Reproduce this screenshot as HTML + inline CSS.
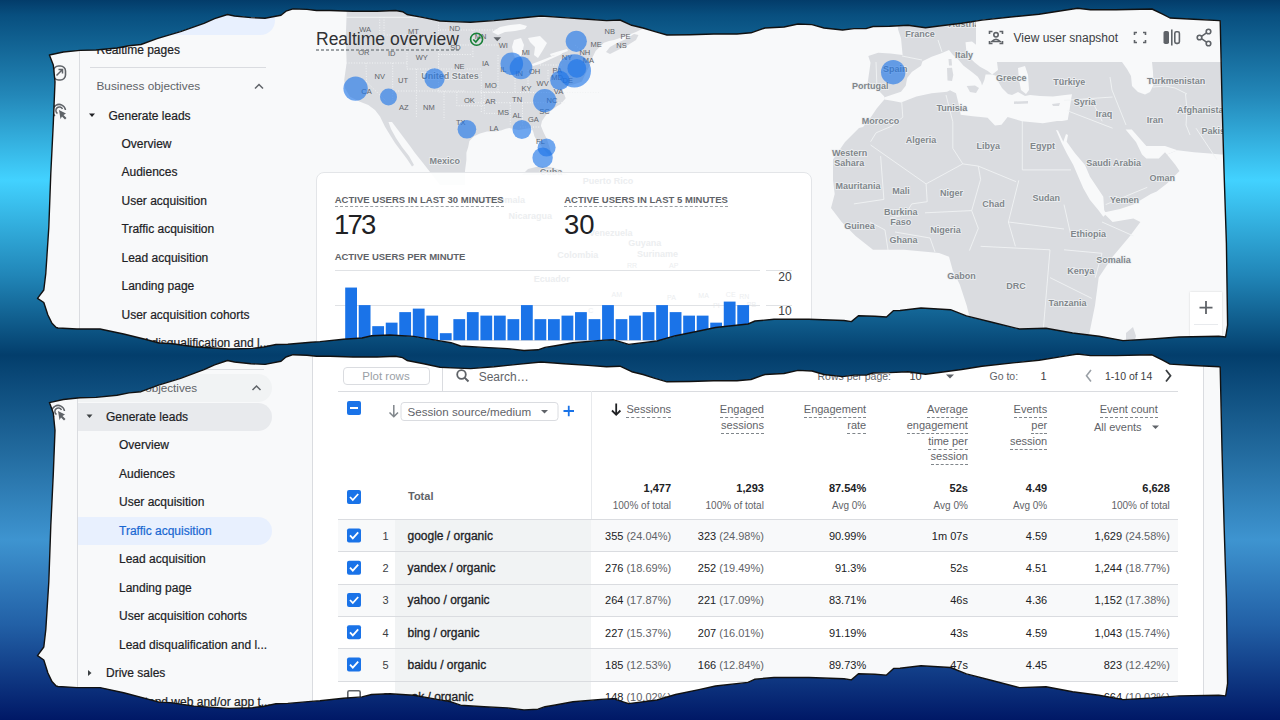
<!DOCTYPE html><html><head><meta charset="utf-8"><style>
*{margin:0;padding:0;box-sizing:border-box}
html,body{width:1280px;height:720px;overflow:hidden}
body{position:relative;font-family:"Liberation Sans",sans-serif;
background:linear-gradient(180deg,#033c6a 0px,#084f7f 15px,#2387b8 95px,#42d2ff 180px,#2186b8 275px,#033e6c 355px,#236ca0 455px,#3e94d0 540px,#2260a6 625px,#001866 720px);}
.panel{position:absolute;left:0;top:0;width:1280px;height:720px;background:#f8f9fa;overflow:hidden}
#p1{clip-path:url(#c1)}
#p2{clip-path:url(#c2)}
.a{position:absolute;white-space:nowrap}
svg{position:absolute;left:0;top:0;overflow:visible}
.dash{border-bottom:1px dashed #80868b}
.m{-webkit-text-stroke:0.25px currentColor}
</style></head><body>
<svg width="0" height="0"><defs><clipPath id="c1" clipPathUnits="userSpaceOnUse"><path d="M49.4 55.0 L63.4 52.0 L80.0 50.4 L96.0 50.0 L117.0 48.0 L129.0 45.7 L141.0 44.5 L157.0 38.7 L180.6 31.6 L204.0 23.4 L214.6 18.7 L227.5 14.5 L234.5 16.0 L251.0 17.6 L265.0 18.3 L281.0 15.2 L286.0 11.2 L293.0 8.9 L307.0 9.4 L316.5 10.5 L330.0 10.5 L353.0 11.2 L377.0 11.2 L395.6 10.5 L402.6 11.7 L407.0 14.5 L423.7 17.6 L440.0 21.0 L452.0 21.6 L470.6 22.3 L494.0 20.6 L517.5 18.3 L541.0 16.0 L564.0 17.6 L587.8 19.2 L606.5 20.6 L620.0 20.0 L631.7 25.3 L643.0 28.0 L655.0 31.6 L667.0 35.0 L690.0 34.7 L713.7 34.0 L737.0 34.0 L751.0 32.8 L765.0 28.0 L784.0 27.0 L798.0 24.0 L812.0 24.6 L824.0 28.0 L842.6 30.0 L854.0 28.6 L866.0 28.6 L873.0 26.5 L889.5 26.2 L908.0 25.3 L925.5 27.8 L941.0 25.8 L961.6 23.2 L982.0 20.1 L1013.0 16.8 L1039.0 14.2 L1064.7 10.3 L1077.6 8.2 L1090.5 9.8 L1116.0 9.8 L1152.0 9.0 L1162.6 14.2 L1170.0 18.0 L1193.6 19.3 L1219.4 20.6 L1220.2 21.0 L1222.0 100.0 L1224.0 170.0 L1226.4 243.0 L1227.6 325.0 L1226.0 335.0 L1225.5 337.0 L1218.7 336.3 L1179.0 337.0 L1152.0 339.0 L1123.0 340.6 L1099.0 336.3 L1072.6 333.0 L1046.0 328.3 L1019.5 329.0 L993.0 322.5 L966.4 315.9 L950.5 309.7 L921.0 308.0 L900.0 310.5 L893.6 310.6 L886.5 317.0 L874.8 316.2 L858.4 315.8 L851.4 321.6 L844.0 320.5 L809.0 319.3 L774.0 319.3 L755.0 321.0 L748.0 324.0 L715.5 327.5 L699.0 331.0 L675.6 335.7 L657.0 341.0 L628.7 344.4 L613.0 339.7 L601.0 340.4 L573.0 342.7 L554.0 346.0 L545.0 347.4 L538.0 349.8 L524.0 350.5 L507.5 348.6 L484.0 347.4 L460.6 346.0 L451.0 342.7 L437.0 340.4 L413.7 336.4 L390.0 335.0 L371.6 335.7 L362.0 338.0 L343.4 339.2 L320.0 341.6 L311.0 342.3 L299.5 343.3 L287.8 344.2 L276.0 344.5 L264.0 347.0 L252.6 348.4 L229.0 349.0 L194.0 346.8 L170.6 343.5 L159.0 343.0 L147.0 339.8 L123.7 334.0 L100.0 329.0 L77.0 329.0 L58.0 328.0 L56.2 327.5 L52.0 323.3 L47.9 315.0 L43.8 302.5 L37.5 298.3 L43.8 290.0 L45.8 273.3 L48.8 227.5 L50.8 173.3 L53.3 123.3 L55.0 81.7 L53.3 65.0 Z"/></clipPath><clipPath id="c2" clipPathUnits="userSpaceOnUse"><path d="M49.4 402.6 L63.4 399.5 L80.0 397.8 L96.0 397.4 L117.0 395.3 L129.0 392.9 L141.0 391.7 L157.0 385.6 L180.6 378.3 L204.0 369.7 L214.6 364.8 L227.5 360.5 L234.5 362.0 L251.0 363.7 L265.0 364.4 L281.0 361.2 L286.0 357.0 L293.0 354.7 L307.0 355.2 L316.5 356.3 L330.0 356.3 L353.0 357.0 L377.0 357.0 L395.6 356.3 L402.6 357.6 L407.0 360.5 L423.7 363.7 L440.0 367.2 L452.0 367.9 L470.6 368.6 L494.0 366.8 L517.5 364.4 L541.0 362.0 L564.0 363.7 L587.8 365.4 L606.5 366.8 L620.0 366.2 L631.7 371.7 L643.0 374.5 L655.0 378.3 L667.0 381.8 L690.0 381.5 L713.7 380.8 L737.0 380.8 L751.0 379.5 L765.0 374.5 L784.0 373.5 L798.0 370.4 L812.0 371.0 L824.0 374.5 L842.6 376.6 L854.0 375.1 L866.0 375.1 L873.0 373.0 L889.5 372.6 L908.0 371.7 L925.5 374.3 L941.0 372.2 L961.6 369.5 L982.0 366.3 L1013.0 362.9 L1039.0 360.2 L1064.7 356.1 L1077.6 354.0 L1090.5 355.6 L1116.0 355.6 L1152.0 354.8 L1162.6 360.2 L1170.0 364.1 L1193.6 365.5 L1219.4 366.8 L1220.2 367.2 L1222.0 449.4 L1224.0 522.2 L1226.4 598.1 L1227.6 683.4 L1226.0 693.8 L1225.5 695.9 L1218.7 695.2 L1179.0 695.9 L1152.0 698.0 L1123.0 699.6 L1099.0 695.2 L1072.6 691.7 L1046.0 686.8 L1019.5 687.6 L993.0 680.8 L966.4 673.9 L950.5 667.5 L921.0 665.7 L900.0 668.3 L893.6 668.4 L886.5 675.1 L874.8 674.2 L858.4 673.8 L851.4 679.9 L844.0 678.7 L809.0 677.5 L774.0 677.5 L755.0 679.2 L748.0 682.4 L715.5 686.0 L699.0 689.6 L675.6 694.5 L657.0 700.0 L628.7 703.6 L613.0 698.7 L601.0 699.4 L573.0 701.8 L554.0 705.2 L545.0 706.7 L538.0 709.2 L524.0 709.9 L507.5 707.9 L484.0 706.7 L460.6 705.2 L451.0 701.8 L437.0 699.4 L413.7 695.3 L390.0 693.8 L371.6 694.5 L362.0 696.9 L343.4 698.2 L320.0 700.7 L311.0 701.4 L299.5 702.4 L287.8 703.4 L276.0 703.7 L264.0 706.3 L252.6 707.7 L229.0 708.4 L194.0 706.1 L170.6 702.6 L159.0 702.1 L147.0 698.8 L123.7 692.8 L100.0 687.6 L77.0 687.6 L58.0 686.5 L56.2 686.0 L52.0 681.6 L47.9 673.0 L43.8 660.0 L37.5 655.6 L43.8 647.0 L45.8 629.6 L48.8 582.0 L50.8 525.6 L53.3 473.6 L55.0 430.4 L53.3 413.0 Z"/></clipPath></defs></svg>
<div class="panel" id="p1"><svg width="1280" height="720" style="font-family:Liberation Sans,sans-serif"><polygon points="340.0,0.0 346.7,12.0 345.8,36.6 346.6,63.0 344.2,80.0 345.0,88.3 350.0,96.7 360.0,101.7 368.3,105.0 375.0,110.0 380.0,116.5 385.0,126.7 390.0,135.0 395.0,143.0 401.0,151.0 407.0,159.0 412.0,166.5 414.0,165.0 409.0,156.0 402.0,147.0 396.0,138.0 391.0,129.0 388.5,122.0 392.0,122.0 398.0,130.0 404.0,138.0 410.0,146.0 415.0,153.0 423.0,163.0 430.0,172.0 440.0,185.0 465.0,185.0 465.0,171.0 466.4,160.0 466.4,152.7 468.2,146.9 469.4,141.0 474.0,136.3 480.0,133.4 487.0,131.6 495.0,131.6 501.0,130.5 505.7,128.7 509.2,128.1 512.7,128.7 518.6,129.9 525.6,128.7 531.5,128.1 533.2,131.6 534.4,136.3 537.3,141.0 542.0,146.9 546.7,152.7 549.0,155.0 551.4,154.5 550.2,149.2 546.7,138.7 543.2,131.6 540.9,125.8 542.0,121.1 546.7,114.0 552.6,109.4 557.3,105.9 560.8,103.9 565.7,98.3 563.6,92.8 562.2,88.6 567.8,85.8 573.3,84.4 581.7,81.7 585.8,73.3 590.0,65.0 592.8,56.7 595.6,51.1 599.7,47.0 603.9,42.8 609.0,41.0 614.0,40.0 620.0,38.0 628.0,35.0 636.0,32.0 642.0,29.0 645.0,24.0 642.0,18.0 640.0,0.0" fill="#dadce0"/><polygon points="606.0,52.0 610.0,47.0 617.0,43.0 626.0,39.0 634.0,34.0 638.5,35.0 636.0,40.0 628.0,45.0 618.0,50.0 610.0,54.0" fill="#dadce0"/><polygon points="522.0,175.0 528.0,169.0 538.0,166.5 550.0,167.0 560.0,170.0 568.0,175.0" fill="#dadce0"/><polygon points="492.0,32.0 500.0,27.0 510.0,25.0 520.0,24.0 527.0,26.0 525.0,29.0 515.0,31.0 505.0,32.0 498.0,35.0" fill="#f8f9fa"/><polygon points="514.0,40.0 521.0,38.0 524.0,45.0 522.0,54.0 518.0,60.0 514.0,56.0 512.0,47.0" fill="#f8f9fa"/><polygon points="528.0,38.0 540.0,36.0 547.0,43.0 543.0,50.0 538.0,58.0 534.0,55.0 535.0,47.0 530.0,42.0" fill="#f8f9fa"/><polygon points="532.0,64.0 545.0,59.0 555.0,55.0 561.0,52.0 562.0,54.0 553.0,58.0 540.0,64.0 533.0,66.0" fill="#f8f9fa"/><polygon points="550.0,54.0 558.0,51.5 567.0,49.0 568.0,51.0 560.0,54.0 551.0,56.0" fill="#f8f9fa"/><polygon points="895.0,0.0 898.0,29.2 901.0,38.3 902.6,55.1 890.4,53.6 878.2,52.8 868.3,55.9 870.5,62.8 869.0,73.5 867.5,84.1 876.7,87.2 879.7,91.8 884.3,96.4 884.3,99.4 876.7,108.6 870.5,117.8 863.0,127.0 859.0,128.0 845.0,142.0 833.0,159.5 833.0,180.3 834.7,194.0 831.0,208.0 841.7,222.0 855.6,236.0 873.0,249.8 904.0,249.8 939.0,253.0 949.0,256.7 952.8,270.6 959.8,284.5 966.7,305.4 970.0,319.0 974.0,360.0 1085.0,360.0 1088.0,340.0 1095.0,305.4 1098.7,277.6 1112.6,256.7 1130.0,236.0 1140.4,222.0 1133.4,218.5 1112.6,222.0 1102.0,211.6 1106.0,212.0 1120.0,209.0 1133.4,204.6 1150.8,194.0 1156.7,191.6 1167.0,183.4 1179.5,171.0 1175.3,164.7 1167.0,154.4 1177.4,150.2 1194.0,152.3 1210.0,153.5 1221.0,154.4 1240.0,155.0 1240.0,0.0" fill="#dadce0"/><polygon points="884.0,97.5 892.0,94.8 901.0,91.8 905.7,85.7 907.2,78.0 911.8,71.9 921.0,65.8 922.5,61.2 931.6,56.7 940.8,53.6 949.0,50.0 953.0,55.0 957.8,58.9 963.3,65.6 972.2,72.2 977.8,76.7 981.0,82.0 982.0,85.6 984.4,80.0 985.6,74.4 992.2,74.4 996.7,76.0 998.5,82.0 1002.0,88.0 1008.0,94.0 1012.0,95.0 1018.0,92.0 1025.0,96.0 1030.0,95.0 1040.0,96.0 1053.0,96.4 1065.0,95.0 1072.0,94.3 1071.0,100.0 1069.7,108.8 1067.7,120.0 1062.0,121.0 1057.0,121.0 1042.8,123.3 1022.0,121.3 1007.6,117.0 1001.5,124.7 995.0,125.4 987.6,117.8 980.7,117.0 972.9,116.2 960.7,114.7 959.0,105.5 956.0,93.3 950.0,90.3 947.0,91.8 931.6,93.3 916.4,96.4 901.0,102.5 893.5,101.0 884.3,99.4" fill="#f8f9fa"/><polygon points="965.5,42.2 972.0,41.5 980.0,48.0 990.0,55.0 997.0,62.0 998.0,70.0 992.2,74.5 987.8,71.0 980.0,66.7 974.4,62.2 966.7,54.4" fill="#f8f9fa"/><polygon points="1018.0,68.0 1025.0,66.0 1028.0,75.0 1029.0,90.0 1026.0,94.0 1021.0,90.0 1019.0,80.0" fill="#f8f9fa"/><polygon points="1122.0,62.0 1152.0,62.0 1153.0,72.0 1153.5,85.0 1150.0,92.0 1145.0,94.5 1138.0,92.0 1132.0,86.0 1131.0,76.0 1127.0,69.0" fill="#f8f9fa"/><polygon points="1056.0,130.0 1058.0,130.5 1063.3,141.7 1066.0,134.0 1068.0,135.0 1066.7,141.7 1075.0,153.3 1085.0,165.0 1090.0,176.7 1096.7,186.7 1103.3,196.7 1104.2,210.0 1106.0,214.0 1103.3,216.7 1098.3,210.0 1090.0,200.0 1083.3,188.3 1078.3,176.7 1073.3,165.0 1066.7,153.3 1061.7,143.3" fill="#f8f9fa"/><polygon points="1125.6,129.5 1131.8,129.5 1146.3,146.0 1165.0,146.0 1177.4,150.2 1167.0,154.4 1165.0,152.3 1158.8,158.5 1146.3,158.5 1142.0,154.4 1136.0,142.0" fill="#f8f9fa"/><polygon points="947.0,68.0 952.0,67.8 953.3,75.0 952.0,81.0 947.5,80.5" fill="#dadce0"/><polygon points="948.5,59.0 951.5,59.0 952.0,65.5 949.0,65.5" fill="#dadce0"/><polygon points="966.7,86.0 975.0,85.6 979.0,88.0 976.0,93.0 970.0,92.0" fill="#dadce0"/><polygon points="1014.0,101.5 1028.0,101.0 1028.0,103.5 1014.0,104.0" fill="#dadce0"/><polygon points="1052.0,104.0 1060.0,103.0 1059.0,106.0 1053.0,106.0" fill="#dadce0"/><polygon points="1126.0,333.0 1133.0,327.0 1136.0,336.0 1132.0,350.0 1126.0,345.0" fill="#dadce0"/><g fill="none" stroke="#f1f3f4" stroke-width="0.9" stroke-linejoin="round"><polyline points="901.7,101.7 902.8,117.2 891.7,126.1 876.1,132.8 870.6,141.7"/><polyline points="870.6,145.0 926.1,183.9"/><polyline points="880.6,156.1 883.9,199.4"/><polyline points="853.9,203.9 883.9,199.4"/><polyline points="926.1,183.9 962.8,163.9"/><polyline points="962.8,163.9 952.8,148.3 952.8,121.7 949.4,108.3 946.0,95.0"/><polyline points="962.8,163.9 978.3,166.1 1016.1,181.7"/><polyline points="978.3,166.1 980.6,179.4 971.7,210.6"/><polyline points="926.1,183.9 927.2,201.7 911.7,203.9 905.0,215.0 890.0,218.0"/><polyline points="925.0,212.8 971.7,210.6"/><polyline points="971.7,210.6 978.3,228.3 969.4,250.6"/><polyline points="1022.3,121.0 1022.3,169.9 1071.0,169.9"/><polyline points="1018.8,180.3 1008.4,222.0 1015.4,246.3"/><polyline points="1008.4,222.0 1064.0,229.0"/><polyline points="1064.0,204.6 1071.0,235.9"/><polyline points="1102.0,222.0 1133.4,235.9"/><polyline points="1064.0,249.8 1102.0,253.3"/><polyline points="1102.0,253.3 1095.2,277.6"/><polyline points="980.6,246.3 1050.0,249.8"/><polyline points="1050.0,249.8 1043.0,333.0"/><polyline points="1050.0,277.6 1091.8,298.4"/><polyline points="1067.5,110.8 1112.6,128.2"/><polyline points="1105.7,204.6 1147.3,187.3"/><polyline points="1196.0,128.2 1216.8,159.5"/><polyline points="1064.0,100.4 1112.6,97.0"/><polyline points="1091.8,100.4 1102.2,121.3"/><polyline points="902.0,56.0 922.0,60.0"/><polyline points="938.0,40.0 942.0,52.0"/><polyline points="876.0,62.0 877.0,89.0"/><polyline points="895.0,232.0 930.0,238.0 935.0,252.0"/><polyline points="870.0,222.0 885.0,230.0 888.0,250.0"/><polyline points="1153.0,87.0 1165.0,86.0 1175.0,88.0 1187.0,94.0"/><polyline points="1185.5,94.0 1187.0,110.0 1186.0,125.0 1190.0,135.0"/><polyline points="1110.0,77.0 1112.0,90.0 1118.0,105.0 1126.0,125.0"/></g><g fill="none" stroke="#f1f3f4" stroke-width="1" stroke-dasharray="1 1.6"><polyline points="379.7,17.0 379.7,51.7"/><polyline points="346.0,63.0 407.0,63.0"/><polyline points="366.0,63.0 366.5,82.0 386.0,101.0"/><polyline points="392.7,63.0 392.7,100.0"/><polyline points="407.0,35.0 407.0,69.0"/><polyline points="384.0,17.0 384.0,35.0 407.0,35.0"/><polyline points="407.0,38.0 438.6,38.0"/><polyline points="416.4,69.0 416.4,118.0"/><polyline points="393.0,91.0 465.0,91.0"/><polyline points="438.6,17.0 438.6,91.0"/><polyline points="407.0,69.0 481.0,69.0"/><polyline points="444.0,91.0 444.0,120.0"/><polyline points="438.6,54.5 472.0,54.5"/><polyline points="472.9,30.0 472.9,57.0"/><polyline points="481.3,72.0 481.3,112.0"/><polyline points="438.6,92.0 500.0,92.0"/><polyline points="456.8,92.0 456.8,105.7 484.0,105.7"/><polyline points="484.3,92.0 484.3,113.4 500.0,113.4"/><polyline points="498.0,55.0 498.0,92.0"/><polyline points="481.0,92.5 600.0,92.5"/><polyline points="470.0,102.7 565.0,102.7"/><polyline points="510.3,102.7 510.3,125.6"/><polyline points="522.5,102.7 522.5,125.6"/><polyline points="520.0,127.0 540.0,127.0"/><polyline points="515.0,70.0 515.0,92.0"/><polyline points="528.0,70.0 528.0,92.0"/><polyline points="540.0,65.0 562.0,65.0"/><polyline points="548.0,70.0 548.0,85.0"/><polyline points="440.0,30.0 500.0,30.0"/><polyline points="460.0,45.0 500.0,45.0"/><polyline points="560.0,60.0 595.0,60.0"/><polyline points="575.0,45.0 590.0,58.0"/></g><polyline points="346,17.3 612,17.3" stroke="#f1f3f4" stroke-width="1" fill="none"/><g font-size="7.5" fill="#5f6368" text-anchor="middle" dominant-baseline="central"><text x="365.2" y="29.4">WA</text><text x="413.5" y="31.2">MT</text><text x="454.7" y="28.6">ND</text><text x="480.7" y="36.6">MN</text><text x="363.8" y="52.5">OR</text><text x="391.7" y="53.8">ID</text><text x="421.7" y="57.3">WY</text><text x="455.5" y="47.2">SD</text><text x="503.3" y="45.9">WI</text><text x="525.8" y="52">MI</text><text x="379.8" y="76.4">NV</text><text x="403.1" y="80.4">UT</text><text x="459.4" y="66.3">NE</text><text x="485.5" y="63.1">IA</text><text x="503.3" y="69.8">IL</text><text x="519.2" y="73.7">IN</text><text x="534.6" y="71.6">OH</text><text x="557.2" y="70">PA</text><text x="567" y="57.8">NY</text><text x="366.5" y="91">CA</text><text x="403.7" y="107.5">AZ</text><text x="428.9" y="107.5">NM</text><text x="469.3" y="100.8">OK</text><text x="490.5" y="101.6">AR</text><text x="490.8" y="85.2">MO</text><text x="526.4" y="88.6">KY</text><text x="542.6" y="83.8">WV</text><text x="558.5" y="91">VA</text><text x="517.1" y="99.8">TN</text><text x="551.9" y="100.3">NC</text><text x="544.4" y="111">SC</text><text x="503.3" y="112.8">MS</text><text x="517.1" y="115.7">AL</text><text x="533.3" y="119.4">GA</text><text x="494" y="128.5">LA</text><text x="460.8" y="122.3">TX</text><text x="540.5" y="141.5">FL</text><text x="557.2" y="77.2">MD</text><text x="567.8" y="80.4">DE</text><text x="588.3" y="60.5">MA</text><text x="584.8" y="52.5">NH</text><text x="596.2" y="44">ME</text><text x="609.8" y="31.2">NB</text><text x="625.4" y="36.6">PE</text><text x="621.5" y="45.9">NS</text></g><g font-size="9" font-weight="bold" fill="#80868b" text-anchor="middle" dominant-baseline="central" stroke="#eef0f2" stroke-width="1.5" paint-order="stroke"><text x="951.8" y="108.4">Tunisia</text><text x="880.6" y="120.6">Morocco</text><text x="920.9" y="140.4">Algeria</text><text x="988.3" y="145.6">Libya</text><text x="1042.4" y="145.6">Egypt</text><text x="849.7" y="152.9">Western</text><text x="849.3" y="162.6">Sahara</text><text x="1113.6" y="163">Saudi Arabia</text><text x="1162.3" y="177.5">Oman</text><text x="858" y="185.5">Mauritania</text><text x="901" y="191">Mali</text><text x="951.4" y="193.2">Niger</text><text x="993.5" y="204">Chad</text><text x="1046.3" y="198.4">Sudan</text><text x="1124.4" y="200">Yemen</text><text x="900.7" y="212">Burkina</text><text x="900.7" y="221.6">Faso</text><text x="859.4" y="225.5">Guinea</text><text x="945.5" y="229.6">Nigeria</text><text x="1088.3" y="233.5">Ethiopia</text><text x="903.5" y="239.7">Ghana</text><text x="1113.6" y="260.2">Somalia</text><text x="1080.7" y="270.6">Kenya</text><text x="961.5" y="275.8">Gabon</text><text x="1016" y="285.9">DRC</text><text x="1067.5" y="302.6">Tanzania</text><text x="1084.8" y="102.2">Syria</text><text x="1104" y="114.3">Iraq</text><text x="1155" y="119.5">Iran</text><text x="1203" y="109.8">Afghanistan</text><text x="1220" y="130.6">Pakistan</text><text x="920" y="33.8">France</text><text x="964" y="55.2">Italy</text><text x="895.3" y="68.7">Spain</text><text x="870.3" y="85.7">Portugal</text><text x="1011.2" y="78.3">Greece</text><text x="1069.2" y="81.5">Türkiye</text><text x="1176.2" y="80.9">Turkmenistan</text><text x="964" y="23.8">Austria</text><text x="444.8" y="161.4">Mexico</text><text x="551" y="172">Cuba</text><text x="450" y="76.4">United States</text></g><g fill="#1a73e8" fill-opacity="0.62"><circle cx="355.6" cy="88.6" r="12.2"/><circle cx="388.5" cy="97.1" r="8.5"/><circle cx="434.5" cy="78.5" r="10.2"/><circle cx="466.9" cy="129.3" r="9.3"/><circle cx="511.8" cy="63.7" r="11.3"/><circle cx="521" cy="67.9" r="11.3"/><circle cx="521.9" cy="129.5" r="9.4"/><circle cx="544.7" cy="100.6" r="11.6"/><circle cx="559.8" cy="80.4" r="9.6"/><circle cx="574.4" cy="70.8" r="16.6"/><circle cx="576.8" cy="68.4" r="9.4"/><circle cx="576.3" cy="41.3" r="10.6"/><circle cx="546.6" cy="147.6" r="9"/><circle cx="542.6" cy="157.7" r="10.2"/><circle cx="893.2" cy="72.2" r="12.2"/></g></svg><div class="a" style="left:79px;top:0px;width:1px;height:720px;background:#dadce0;"></div><div class="a" style="left:45px;top:0px;width:34px;height:720px;background:#f8f9fa;"></div><div class="a" style="left:80px;top:0px;width:220px;height:720px;background:#f8f9fa;"></div><div class="a" style="left:80px;top:6px;width:195px;height:28.5px;background:#e8f0fe;border-radius:0 15px 15px 0;"></div><div class="a" style="top:43.5px;font-size:12px;line-height:12px;color:#202124;left:96.5px;-webkit-text-stroke:0.2px #202124;">Realtime pages</div><div class="a" style="left:90px;top:67px;width:176px;height:1px;background:#dadce0;"></div><div class="a" style="top:80.6px;font-size:11.8px;line-height:11.8px;color:#5f6368;left:96.5px;">Business objectives</div><div class="a" style="top:110.0px;font-size:12px;line-height:12px;color:#202124;left:108.5px;-webkit-text-stroke:0.2px #202124;">Generate leads</div><div class="a" style="top:137.5px;font-size:12px;line-height:12px;color:#202124;left:121.5px;-webkit-text-stroke:0.2px #202124;">Overview</div><div class="a" style="top:166.1px;font-size:12px;line-height:12px;color:#202124;left:121.5px;-webkit-text-stroke:0.2px #202124;">Audiences</div><div class="a" style="top:194.6px;font-size:12px;line-height:12px;color:#202124;left:121.5px;-webkit-text-stroke:0.2px #202124;">User acquisition</div><div class="a" style="top:223.2px;font-size:12px;line-height:12px;color:#202124;left:121.5px;-webkit-text-stroke:0.2px #202124;">Traffic acquisition</div><div class="a" style="top:251.7px;font-size:12px;line-height:12px;color:#202124;left:121.5px;-webkit-text-stroke:0.2px #202124;">Lead acquisition</div><div class="a" style="top:280.2px;font-size:12px;line-height:12px;color:#202124;left:121.5px;-webkit-text-stroke:0.2px #202124;">Landing page</div><div class="a" style="top:308.8px;font-size:12px;line-height:12px;color:#202124;left:121.5px;-webkit-text-stroke:0.2px #202124;">User acquisition cohorts</div><div class="a" style="top:337.4px;font-size:12px;line-height:12px;color:#202124;left:121.5px;-webkit-text-stroke:0.2px #202124;">Lead disqualification and l...</div><svg width="1280" height="720"><path d="M89 113.5 L95 113.5 L92 117 Z" fill="#202124"/><path d="M255 88.5 L259 84.5 L263 88.5" fill="none" stroke="#5f6368" stroke-width="1.5"/><rect x="53.5" y="66" width="12" height="14" rx="5" ry="5" fill="none" stroke="#5f6368" stroke-width="1.6"/><path d="M56.5 75.5 L62.5 69.5 M58.5 69.5 L62.5 69.5 L62.5 73.5" fill="none" stroke="#5f6368" stroke-width="1.5"/><path d="M55 116 A6.5 6.5 0 1 1 65.5 110" fill="none" stroke="#5f6368" stroke-width="1.5"/><path d="M57.5 113.5 A3.5 3.5 0 1 1 62.5 109" fill="none" stroke="#5f6368" stroke-width="1.5"/><path d="M59 110 L60.5 119 L62 116.5 L65 119.5 L66.5 118 L63.5 115 L66 113.5 Z" fill="#5f6368"/></svg><div class="a" style="top:30.5px;font-size:17.5px;line-height:17.5px;color:#303134;left:316.0px;">Realtime overview</div><svg width="1280" height="720"><path d="M316 50 H459" stroke="#80868b" stroke-width="1.5" stroke-dasharray="3 2"/></svg><svg width="1280" height="720"><circle cx="476.6" cy="39.2" r="6" fill="none" stroke="#188038" stroke-width="1.6"/><path d="M473.3 39.5 L475.8 42 L480 37" fill="none" stroke="#188038" stroke-width="1.7"/><path d="M493.5 37.3 L501 37.3 L497.25 41.3 Z" fill="#5f6368"/></svg><div class="a" style="left:976px;top:0px;width:260px;height:62px;background:#f8f9fa;border-radius:0 0 0 8px;"></div><div class="a" style="top:31.5px;font-size:12px;line-height:12px;color:#3c4043;left:1013.5px;">View user snapshot</div><svg width="1280" height="720" fill="none" stroke="#5f6368" stroke-width="1.6"><path d="M989.5 34 V31.5 H992.5 M999.5 31.5 H1002.5 V34 M1002.5 41 V43.5 H999.5 M992.5 43.5 H989.5 V41"/><circle cx="996" cy="34.8" r="2.2"/><path d="M991.8 41.5 Q996 37 1000.2 41.5 Z"/><path d="M1134.5 35 V32.5 H1137 M1143 32.5 H1145.5 V35 M1145.5 40 V42.5 H1143 M1137 42.5 H1134.5 V40"/><rect x="1163.5" y="31" width="5.5" height="13" rx="1.8" fill="#5f6368" stroke="none"/><path d="M1171.8 29.5 V45.5"/><rect x="1174.8" y="31.8" width="4.6" height="11.6" rx="1.6"/><circle cx="1208.5" cy="31.5" r="2.3"/><circle cx="1199.5" cy="37.5" r="2.3"/><circle cx="1208.5" cy="43.5" r="2.3"/><path d="M1201.5 36.3 L1206.5 32.8 M1201.5 38.7 L1206.5 42.2"/></svg><div class="a" style="left:1190px;top:291.7px;width:32px;height:60px;background:#ffffff;box-shadow:0 0 2px rgba(0,0,0,0.15);"></div><div class="a" style="left:1194px;top:323.5px;width:24px;height:1px;background:#e8eaed;"></div><svg width="1280" height="720"><path d="M1199.5 307.6 H1212.5 M1206 301 V314" stroke="#5f6368" stroke-width="1.8"/></svg><div class="a" style="left:316px;top:171.7px;width:496px;height:250px;background:rgba(255,255,255,0.92);border:1px solid #e3e5e8;border-radius:8px;"></div><svg width="1280" height="720"><g fill="#eceef0" font-weight="bold" text-anchor="middle" dominant-baseline="central"><text x="608" y="180.7" font-size="9">Puerto Rico</text><text x="502" y="199.8" font-size="9">Guatemala</text><text x="530.3" y="215.8" font-size="9">Nicaragua</text><text x="610.8" y="232.9" font-size="9">Venezuela</text><text x="644.7" y="242.9" font-size="9">Guyana</text><text x="657.4" y="254.4" font-size="9">Suriname</text><text x="577.7" y="254.8" font-size="9">Colombia</text><text x="632" y="265.6" font-size="7" font-weight="normal">RR</text><text x="673.7" y="265.6" font-size="7" font-weight="normal">AP</text><text x="551.8" y="278.7" font-size="9">Ecuador</text><text x="616.8" y="294.7" font-size="7" font-weight="normal">AM</text><text x="671.4" y="297.5" font-size="7" font-weight="normal">PA</text><text x="703.6" y="295.5" font-size="7" font-weight="normal">MA</text><text x="730.7" y="294.7" font-size="7" font-weight="normal">CE</text><text x="744.3" y="296.7" font-size="7" font-weight="normal">RN</text><text x="716.4" y="305.4" font-size="7" font-weight="normal">PI</text><text x="751.4" y="304.2" font-size="7" font-weight="normal">PB</text><text x="590.9" y="310.6" font-size="7" font-weight="normal">C</text></g></svg><div class="a" style="top:195.4px;font-size:9.5px;line-height:9.5px;color:#5f6368;font-weight:bold;letter-spacing:0.02px;left:334.7px;">ACTIVE USERS IN LAST 30 MINUTES</div><div class="a" style="left:334.7px;top:206px;width:169px;height:0px;background:transparent;border-top:1px dashed #9aa0a6;"></div><div class="a" style="top:195.4px;font-size:9.5px;line-height:9.5px;color:#5f6368;font-weight:bold;letter-spacing:0.02px;left:564.2px;">ACTIVE USERS IN LAST 5 MINUTES</div><div class="a" style="left:564.2px;top:206px;width:164px;height:0px;background:transparent;border-top:1px dashed #9aa0a6;"></div><div class="a" style="top:211.2px;font-size:27.5px;line-height:27.5px;color:#202124;letter-spacing:-1.8px;left:334.0px;">173</div><div class="a" style="top:211.2px;font-size:27.5px;line-height:27.5px;color:#202124;left:564.0px;">30</div><div class="a" style="top:252.2px;font-size:9.5px;line-height:9.5px;color:#5f6368;font-weight:bold;letter-spacing:-0.03px;left:334.7px;">ACTIVE USERS PER MINUTE</div><div class="a" style="left:334.7px;top:270px;width:425px;height:1px;background:#e0e2e5;"></div><div class="a" style="left:334.7px;top:305px;width:425px;height:1px;background:#e0e2e5;"></div><div class="a" style="left:766px;top:270px;width:26px;height:1px;background:#e0e2e5;"></div><div class="a" style="left:766px;top:305px;width:26px;height:1px;background:#e0e2e5;"></div><div class="a" style="left:334.7px;top:339.5px;width:425px;height:1px;background:#dadce0;"></div><div class="a" style="top:271.2px;font-size:12px;line-height:12px;color:#3c4043;left:191.7px;width:600px;text-align:right;">20</div><div class="a" style="top:305.2px;font-size:12px;line-height:12px;color:#3c4043;left:191.7px;width:600px;text-align:right;">10</div><svg width="1280" height="720"><g fill="#1a73e8"><rect x="345.20" y="287.55" width="11.8" height="52.65"/><rect x="358.72" y="305.10" width="11.8" height="35.10"/><rect x="372.24" y="326.16" width="11.8" height="14.04"/><rect x="385.76" y="322.65" width="11.8" height="17.55"/><rect x="399.28" y="312.12" width="11.8" height="28.08"/><rect x="412.80" y="308.61" width="11.8" height="31.59"/><rect x="426.32" y="315.63" width="11.8" height="24.57"/><rect x="439.84" y="333.18" width="11.8" height="7.02"/><rect x="453.36" y="319.14" width="11.8" height="21.06"/><rect x="466.88" y="312.12" width="11.8" height="28.08"/><rect x="480.40" y="315.63" width="11.8" height="24.57"/><rect x="493.92" y="315.63" width="11.8" height="24.57"/><rect x="507.44" y="319.14" width="11.8" height="21.06"/><rect x="520.96" y="305.10" width="11.8" height="35.10"/><rect x="534.48" y="319.14" width="11.8" height="21.06"/><rect x="548.00" y="319.14" width="11.8" height="21.06"/><rect x="561.52" y="315.63" width="11.8" height="24.57"/><rect x="575.04" y="312.12" width="11.8" height="28.08"/><rect x="588.56" y="319.14" width="11.8" height="21.06"/><rect x="602.08" y="305.10" width="11.8" height="35.10"/><rect x="615.60" y="319.14" width="11.8" height="21.06"/><rect x="629.12" y="315.63" width="11.8" height="24.57"/><rect x="642.64" y="312.12" width="11.8" height="28.08"/><rect x="656.16" y="305.10" width="11.8" height="35.10"/><rect x="669.68" y="312.12" width="11.8" height="28.08"/><rect x="683.20" y="315.63" width="11.8" height="24.57"/><rect x="696.72" y="315.63" width="11.8" height="24.57"/><rect x="710.24" y="322.65" width="11.8" height="17.55"/><rect x="723.76" y="301.59" width="11.8" height="38.61"/><rect x="737.28" y="305.10" width="11.8" height="35.10"/></g></svg></div>
<div class="panel" id="p2"><div class="a" style="left:77px;top:0px;width:1px;height:720px;background:#dadce0;"></div><div class="a" style="left:312px;top:0px;width:1px;height:720px;background:#dadce0;"></div><div class="a" style="left:313px;top:0px;width:890px;height:720px;background:#ffffff;"></div><div class="a" style="left:1203px;top:0px;width:1px;height:720px;background:#dadce0;"></div><div class="a" style="left:1204px;top:0px;width:76px;height:720px;background:#f8f9fa;"></div><div class="a" style="left:88px;top:369px;width:176px;height:1px;background:#dadce0;"></div><div class="a" style="left:78px;top:374px;width:194px;height:28px;background:#f1f3f4;border-radius:0 14px 14px 0;"></div><div class="a" style="top:382.1px;font-size:11.7px;line-height:11.7px;color:#5f6368;left:94.5px;">Business objectives</div><div class="a" style="left:78px;top:403px;width:194px;height:28px;background:#e8eaed;border-radius:0 14px 14px 0;"></div><div class="a" style="top:410.5px;font-size:12px;line-height:12px;color:#202124;left:106.0px;-webkit-text-stroke:0.2px #202124;">Generate leads</div><div class="a" style="left:78px;top:516.5px;width:194px;height:28px;background:#e8f0fe;border-radius:0 14px 14px 0;"></div><div class="a" style="top:439.0px;font-size:12px;line-height:12px;color:#202124;left:119.0px;-webkit-text-stroke:0.2px #202124;">Overview</div><div class="a" style="top:467.6px;font-size:12px;line-height:12px;color:#202124;left:119.0px;-webkit-text-stroke:0.2px #202124;">Audiences</div><div class="a" style="top:496.1px;font-size:12px;line-height:12px;color:#202124;left:119.0px;-webkit-text-stroke:0.2px #202124;">User acquisition</div><div class="a" style="top:524.6px;font-size:12px;line-height:12px;color:#1967d2;left:119.0px;-webkit-text-stroke:0.2px #1967d2;">Traffic acquisition</div><div class="a" style="top:553.2px;font-size:12px;line-height:12px;color:#202124;left:119.0px;-webkit-text-stroke:0.2px #202124;">Lead acquisition</div><div class="a" style="top:581.8px;font-size:12px;line-height:12px;color:#202124;left:119.0px;-webkit-text-stroke:0.2px #202124;">Landing page</div><div class="a" style="top:610.3px;font-size:12px;line-height:12px;color:#202124;left:119.0px;-webkit-text-stroke:0.2px #202124;">User acquisition cohorts</div><div class="a" style="top:638.9px;font-size:12px;line-height:12px;color:#202124;left:119.0px;-webkit-text-stroke:0.2px #202124;">Lead disqualification and l...</div><div class="a" style="top:667.0px;font-size:12px;line-height:12px;color:#202124;left:106.0px;-webkit-text-stroke:0.2px #202124;">Drive sales</div><div class="a" style="top:695.5px;font-size:12px;line-height:12px;color:#202124;left:106.0px;-webkit-text-stroke:0.2px #202124;">Understand web and/or app t...</div><svg width="1280" height="720"><path d="M86.5 414.5 L92.5 414.5 L89.5 418 Z" fill="#3c4043"/><path d="M88 670 L91.5 673 L88 676 Z" fill="#3c4043"/><path d="M252.5 390 L256.5 386 L260.5 390" fill="none" stroke="#5f6368" stroke-width="1.5"/><path d="M54 417 A6.5 6.5 0 1 1 64.5 411" fill="none" stroke="#5f6368" stroke-width="1.5"/><path d="M56.5 414.5 A3.5 3.5 0 1 1 61.5 410" fill="none" stroke="#5f6368" stroke-width="1.5"/><path d="M58 411 L59.5 420 L61 417.5 L64 420.5 L65.5 419 L62.5 416 L65 414.5 Z" fill="#5f6368"/></svg><div class="a" style="left:342.5px;top:367px;width:87px;height:18px;background:#fff;border:1px solid #dadce0;border-radius:4px;"></div><div class="a" style="top:370.8px;font-size:11.5px;line-height:11.5px;color:#9aa0a6;left:86.0px;width:600px;text-align:center;">Plot rows</div><div class="a" style="left:442px;top:355px;width:1px;height:36px;background:#dadce0;"></div><div class="a" style="top:370.5px;font-size:12px;line-height:12px;color:#5f6368;left:478.7px;">Search…</div><div class="a" style="top:371.2px;font-size:10.5px;line-height:10.5px;color:#5f6368;left:817.5px;">Rows per page:</div><div class="a" style="top:371.0px;font-size:11px;line-height:11px;color:#3c4043;left:909.5px;">10</div><div class="a" style="top:371.2px;font-size:10.5px;line-height:10.5px;color:#5f6368;left:989.5px;">Go to:</div><div class="a" style="top:371.0px;font-size:11px;line-height:11px;color:#3c4043;left:1040.5px;">1</div><div class="a" style="top:371.2px;font-size:10.5px;line-height:10.5px;color:#3c4043;left:1105.0px;">1-10 of 14</div><svg width="1280" height="720"><circle cx="461.5" cy="374.5" r="4.3" fill="none" stroke="#5f6368" stroke-width="1.8"/><path d="M464.6 377.6 L468.5 381.5" stroke="#5f6368" stroke-width="2"/><path d="M946 374.5 L954 374.5 L950 378.5 Z" fill="#5f6368"/><path d="M1091 370 L1086.5 375.8 L1091 381.5" fill="none" stroke="#9aa0a6" stroke-width="1.6"/><path d="M1166 370 L1170.5 375.8 L1166 381.5" fill="none" stroke="#3c4043" stroke-width="1.8"/></svg><div class="a" style="left:338px;top:391px;width:840px;height:1px;background:#dadce0;"></div><div class="a" style="left:591px;top:391px;width:1px;height:128px;background:#e8eaed;"></div><svg width="1280" height="720"><rect x="347" y="401" width="14" height="14" rx="2" fill="#1a73e8"/><path d="M350 408 H358" stroke="#fff" stroke-width="1.8"/><rect x="347" y="490" width="14" height="14" rx="2" fill="#1a73e8"/><path d="M350 497 L352.8 500 L358.2 494" fill="none" stroke="#fff" stroke-width="1.8"/><path d="M393.8 405 V416.5 M389.5 412.5 L393.8 416.8 L398 412.5" fill="none" stroke="#80868b" stroke-width="1.5"/><rect x="401" y="402.5" width="157" height="18" rx="3" fill="#fff" stroke="#dadce0"/><path d="M541 410 L548 410 L544.5 413.5 Z" fill="#5f6368"/><path d="M563.5 411 H574 M568.75 405.7 V416.3" stroke="#1a73e8" stroke-width="1.8"/><path d="M616.2 403.5 V414.5 M612 410.5 L616.2 414.8 L620.4 410.5" fill="none" stroke="#202124" stroke-width="1.8"/><path d="M1152 425.5 L1159 425.5 L1155.5 429 Z" fill="#5f6368"/></svg><div class="a" style="top:405.7px;font-size:11.6px;line-height:11.6px;color:#5f6368;left:407.5px;">Session source/medium</div><div class="a" style="top:404.0px;font-size:11px;line-height:11px;color:#5f6368;left:71.1px;width:600px;text-align:right;">Sessions</div><div class="a" style="left:71.1px;width:600px;top:417.0px;height:0;text-align:right"><span style="display:inline-block;font-size:11px;color:transparent;border-top:1px dashed #80868b;vertical-align:top;line-height:0">Sessions</span></div><div class="a" style="top:404.0px;font-size:11px;line-height:11px;color:#5f6368;left:163.9px;width:600px;text-align:right;">Engaged</div><div class="a" style="left:163.9px;width:600px;top:417.0px;height:0;text-align:right"><span style="display:inline-block;font-size:11px;color:transparent;border-top:1px dashed #80868b;vertical-align:top;line-height:0">Engaged</span></div><div class="a" style="top:419.8px;font-size:11px;line-height:11px;color:#5f6368;left:163.9px;width:600px;text-align:right;">sessions</div><div class="a" style="left:163.9px;width:600px;top:432.8px;height:0;text-align:right"><span style="display:inline-block;font-size:11px;color:transparent;border-top:1px dashed #80868b;vertical-align:top;line-height:0">sessions</span></div><div class="a" style="top:404.0px;font-size:11px;line-height:11px;color:#5f6368;left:266.2px;width:600px;text-align:right;">Engagement</div><div class="a" style="left:266.2px;width:600px;top:417.0px;height:0;text-align:right"><span style="display:inline-block;font-size:11px;color:transparent;border-top:1px dashed #80868b;vertical-align:top;line-height:0">Engagement</span></div><div class="a" style="top:419.8px;font-size:11px;line-height:11px;color:#5f6368;left:266.2px;width:600px;text-align:right;">rate</div><div class="a" style="left:266.2px;width:600px;top:432.8px;height:0;text-align:right"><span style="display:inline-block;font-size:11px;color:transparent;border-top:1px dashed #80868b;vertical-align:top;line-height:0">rate</span></div><div class="a" style="top:404.0px;font-size:11px;line-height:11px;color:#5f6368;left:367.9px;width:600px;text-align:right;">Average</div><div class="a" style="left:367.9px;width:600px;top:417.0px;height:0;text-align:right"><span style="display:inline-block;font-size:11px;color:transparent;border-top:1px dashed #80868b;vertical-align:top;line-height:0">Average</span></div><div class="a" style="top:419.8px;font-size:11px;line-height:11px;color:#5f6368;left:367.9px;width:600px;text-align:right;">engagement</div><div class="a" style="left:367.9px;width:600px;top:432.8px;height:0;text-align:right"><span style="display:inline-block;font-size:11px;color:transparent;border-top:1px dashed #80868b;vertical-align:top;line-height:0">engagement</span></div><div class="a" style="top:435.5px;font-size:11px;line-height:11px;color:#5f6368;left:367.9px;width:600px;text-align:right;">time per</div><div class="a" style="left:367.9px;width:600px;top:448.5px;height:0;text-align:right"><span style="display:inline-block;font-size:11px;color:transparent;border-top:1px dashed #80868b;vertical-align:top;line-height:0">time per</span></div><div class="a" style="top:451.2px;font-size:11px;line-height:11px;color:#5f6368;left:367.9px;width:600px;text-align:right;">session</div><div class="a" style="left:367.9px;width:600px;top:464.2px;height:0;text-align:right"><span style="display:inline-block;font-size:11px;color:transparent;border-top:1px dashed #80868b;vertical-align:top;line-height:0">session</span></div><div class="a" style="top:404.0px;font-size:11px;line-height:11px;color:#5f6368;left:447.2px;width:600px;text-align:right;">Events</div><div class="a" style="left:447.2px;width:600px;top:417.0px;height:0;text-align:right"><span style="display:inline-block;font-size:11px;color:transparent;border-top:1px dashed #80868b;vertical-align:top;line-height:0">Events</span></div><div class="a" style="top:419.8px;font-size:11px;line-height:11px;color:#5f6368;left:447.2px;width:600px;text-align:right;">per</div><div class="a" style="left:447.2px;width:600px;top:432.8px;height:0;text-align:right"><span style="display:inline-block;font-size:11px;color:transparent;border-top:1px dashed #80868b;vertical-align:top;line-height:0">per</span></div><div class="a" style="top:435.5px;font-size:11px;line-height:11px;color:#5f6368;left:447.2px;width:600px;text-align:right;">session</div><div class="a" style="left:447.2px;width:600px;top:448.5px;height:0;text-align:right"><span style="display:inline-block;font-size:11px;color:transparent;border-top:1px dashed #80868b;vertical-align:top;line-height:0">session</span></div><div class="a" style="top:404.0px;font-size:11px;line-height:11px;color:#5f6368;left:557.8px;width:600px;text-align:right;">Event count</div><div class="a" style="left:557.8px;width:600px;top:417.0px;height:0;text-align:right"><span style="display:inline-block;font-size:11px;color:transparent;border-top:1px dashed #80868b;vertical-align:top;line-height:0">Event count</span></div><div class="a" style="top:422.0px;font-size:11px;line-height:11px;color:#5f6368;left:1093.9px;">All events</div><div class="a" style="top:491.0px;font-size:11px;line-height:11px;color:#5f6368;font-weight:bold;left:408.0px;">Total</div><div class="a" style="top:483.3px;font-size:11px;line-height:11px;color:#202124;font-weight:bold;left:71.1px;width:600px;text-align:right;">1,477</div><div class="a" style="top:501.3px;font-size:10px;line-height:10px;color:#5f6368;left:71.1px;width:600px;text-align:right;">100% of total</div><div class="a" style="top:483.3px;font-size:11px;line-height:11px;color:#202124;font-weight:bold;left:163.9px;width:600px;text-align:right;">1,293</div><div class="a" style="top:501.3px;font-size:10px;line-height:10px;color:#5f6368;left:163.9px;width:600px;text-align:right;">100% of total</div><div class="a" style="top:483.3px;font-size:11px;line-height:11px;color:#202124;font-weight:bold;left:266.2px;width:600px;text-align:right;">87.54%</div><div class="a" style="top:501.3px;font-size:10px;line-height:10px;color:#5f6368;left:266.2px;width:600px;text-align:right;">Avg 0%</div><div class="a" style="top:483.3px;font-size:11px;line-height:11px;color:#202124;font-weight:bold;left:367.9px;width:600px;text-align:right;">52s</div><div class="a" style="top:501.3px;font-size:10px;line-height:10px;color:#5f6368;left:367.9px;width:600px;text-align:right;">Avg 0%</div><div class="a" style="top:483.3px;font-size:11px;line-height:11px;color:#202124;font-weight:bold;left:447.2px;width:600px;text-align:right;">4.49</div><div class="a" style="top:501.3px;font-size:10px;line-height:10px;color:#5f6368;left:447.2px;width:600px;text-align:right;">Avg 0%</div><div class="a" style="top:483.3px;font-size:11px;line-height:11px;color:#202124;font-weight:bold;left:569.8px;width:600px;text-align:right;">6,628</div><div class="a" style="top:501.3px;font-size:10px;line-height:10px;color:#5f6368;left:569.8px;width:600px;text-align:right;">100% of total</div><div class="a" style="left:338px;top:519px;width:840px;height:1px;background:#dadce0;"></div><div class="a" style="left:338px;top:519.5px;width:840px;height:32.3px;background:#f8f9fa;"></div><div class="a" style="left:395px;top:519.5px;width:196px;height:32.3px;background:#f1f3f4;"></div><div class="a" style="top:530.6px;font-size:11px;line-height:11px;color:#3c4043;left:-211.3px;width:600px;text-align:right;">1</div><div class="a" style="top:529.6px;font-size:12px;line-height:12px;color:#202124;left:407.5px;-webkit-text-stroke:0.3px #202124;">google / organic</div><div class="a" style="left:71.1px;width:600px;text-align:right;top:530.6px;font-size:11px;line-height:11px;color:#202124">355 <span style="color:#5f6368">(24.04%)</span></div><div class="a" style="left:163.9px;width:600px;text-align:right;top:530.6px;font-size:11px;line-height:11px;color:#202124">323 <span style="color:#5f6368">(24.98%)</span></div><div class="a" style="top:530.6px;font-size:11px;line-height:11px;color:#202124;left:266.2px;width:600px;text-align:right;">90.99%</div><div class="a" style="top:530.6px;font-size:11px;line-height:11px;color:#202124;left:367.9px;width:600px;text-align:right;">1m 07s</div><div class="a" style="top:530.6px;font-size:11px;line-height:11px;color:#202124;left:447.2px;width:600px;text-align:right;">4.59</div><div class="a" style="left:569.8px;width:600px;text-align:right;top:530.6px;font-size:11px;line-height:11px;color:#202124">1,629 <span style="color:#5f6368">(24.58%)</span></div><div class="a" style="left:395px;top:551.8px;width:196px;height:32.3px;background:#f1f3f4;"></div><div class="a" style="top:562.9px;font-size:11px;line-height:11px;color:#3c4043;left:-211.3px;width:600px;text-align:right;">2</div><div class="a" style="top:561.9px;font-size:12px;line-height:12px;color:#202124;left:407.5px;-webkit-text-stroke:0.3px #202124;">yandex / organic</div><div class="a" style="left:71.1px;width:600px;text-align:right;top:562.9px;font-size:11px;line-height:11px;color:#202124">276 <span style="color:#5f6368">(18.69%)</span></div><div class="a" style="left:163.9px;width:600px;text-align:right;top:562.9px;font-size:11px;line-height:11px;color:#202124">252 <span style="color:#5f6368">(19.49%)</span></div><div class="a" style="top:562.9px;font-size:11px;line-height:11px;color:#202124;left:266.2px;width:600px;text-align:right;">91.3%</div><div class="a" style="top:562.9px;font-size:11px;line-height:11px;color:#202124;left:367.9px;width:600px;text-align:right;">52s</div><div class="a" style="top:562.9px;font-size:11px;line-height:11px;color:#202124;left:447.2px;width:600px;text-align:right;">4.51</div><div class="a" style="left:569.8px;width:600px;text-align:right;top:562.9px;font-size:11px;line-height:11px;color:#202124">1,244 <span style="color:#5f6368">(18.77%)</span></div><div class="a" style="left:338px;top:584.1px;width:840px;height:32.3px;background:#f8f9fa;"></div><div class="a" style="left:395px;top:584.1px;width:196px;height:32.3px;background:#f1f3f4;"></div><div class="a" style="top:595.2px;font-size:11px;line-height:11px;color:#3c4043;left:-211.3px;width:600px;text-align:right;">3</div><div class="a" style="top:594.2px;font-size:12px;line-height:12px;color:#202124;left:407.5px;-webkit-text-stroke:0.3px #202124;">yahoo / organic</div><div class="a" style="left:71.1px;width:600px;text-align:right;top:595.2px;font-size:11px;line-height:11px;color:#202124">264 <span style="color:#5f6368">(17.87%)</span></div><div class="a" style="left:163.9px;width:600px;text-align:right;top:595.2px;font-size:11px;line-height:11px;color:#202124">221 <span style="color:#5f6368">(17.09%)</span></div><div class="a" style="top:595.2px;font-size:11px;line-height:11px;color:#202124;left:266.2px;width:600px;text-align:right;">83.71%</div><div class="a" style="top:595.2px;font-size:11px;line-height:11px;color:#202124;left:367.9px;width:600px;text-align:right;">46s</div><div class="a" style="top:595.2px;font-size:11px;line-height:11px;color:#202124;left:447.2px;width:600px;text-align:right;">4.36</div><div class="a" style="left:569.8px;width:600px;text-align:right;top:595.2px;font-size:11px;line-height:11px;color:#202124">1,152 <span style="color:#5f6368">(17.38%)</span></div><div class="a" style="left:395px;top:616.4px;width:196px;height:32.3px;background:#f1f3f4;"></div><div class="a" style="top:627.5px;font-size:11px;line-height:11px;color:#3c4043;left:-211.3px;width:600px;text-align:right;">4</div><div class="a" style="top:626.5px;font-size:12px;line-height:12px;color:#202124;left:407.5px;-webkit-text-stroke:0.3px #202124;">bing / organic</div><div class="a" style="left:71.1px;width:600px;text-align:right;top:627.5px;font-size:11px;line-height:11px;color:#202124">227 <span style="color:#5f6368">(15.37%)</span></div><div class="a" style="left:163.9px;width:600px;text-align:right;top:627.5px;font-size:11px;line-height:11px;color:#202124">207 <span style="color:#5f6368">(16.01%)</span></div><div class="a" style="top:627.5px;font-size:11px;line-height:11px;color:#202124;left:266.2px;width:600px;text-align:right;">91.19%</div><div class="a" style="top:627.5px;font-size:11px;line-height:11px;color:#202124;left:367.9px;width:600px;text-align:right;">43s</div><div class="a" style="top:627.5px;font-size:11px;line-height:11px;color:#202124;left:447.2px;width:600px;text-align:right;">4.59</div><div class="a" style="left:569.8px;width:600px;text-align:right;top:627.5px;font-size:11px;line-height:11px;color:#202124">1,043 <span style="color:#5f6368">(15.74%)</span></div><div class="a" style="left:338px;top:648.7px;width:840px;height:32.3px;background:#f8f9fa;"></div><div class="a" style="left:395px;top:648.7px;width:196px;height:32.3px;background:#f1f3f4;"></div><div class="a" style="top:659.9px;font-size:11px;line-height:11px;color:#3c4043;left:-211.3px;width:600px;text-align:right;">5</div><div class="a" style="top:658.9px;font-size:12px;line-height:12px;color:#202124;left:407.5px;-webkit-text-stroke:0.3px #202124;">baidu / organic</div><div class="a" style="left:71.1px;width:600px;text-align:right;top:659.9px;font-size:11px;line-height:11px;color:#202124">185 <span style="color:#5f6368">(12.53%)</span></div><div class="a" style="left:163.9px;width:600px;text-align:right;top:659.9px;font-size:11px;line-height:11px;color:#202124">166 <span style="color:#5f6368">(12.84%)</span></div><div class="a" style="top:659.9px;font-size:11px;line-height:11px;color:#202124;left:266.2px;width:600px;text-align:right;">89.73%</div><div class="a" style="top:659.9px;font-size:11px;line-height:11px;color:#202124;left:367.9px;width:600px;text-align:right;">47s</div><div class="a" style="top:659.9px;font-size:11px;line-height:11px;color:#202124;left:447.2px;width:600px;text-align:right;">4.45</div><div class="a" style="left:569.8px;width:600px;text-align:right;top:659.9px;font-size:11px;line-height:11px;color:#202124">823 <span style="color:#5f6368">(12.42%)</span></div><div class="a" style="left:395px;top:681.0px;width:196px;height:32.3px;background:#f1f3f4;"></div><div class="a" style="top:692.1px;font-size:11px;line-height:11px;color:#3c4043;left:-211.3px;width:600px;text-align:right;">6</div><div class="a" style="top:691.1px;font-size:12px;line-height:12px;color:#202124;left:411.5px;-webkit-text-stroke:0.3px #202124;">ok / organic</div><div class="a" style="left:71.1px;width:600px;text-align:right;top:692.1px;font-size:11px;line-height:11px;color:#202124">148 <span style="color:#5f6368">(10.02%)</span></div><div class="a" style="left:569.8px;width:600px;text-align:right;top:692.1px;font-size:11px;line-height:11px;color:#202124">664 <span style="color:#5f6368">(10.02%)</span></div><div class="a" style="left:338px;top:551.3px;width:840px;height:1px;background:#dadce0;"></div><div class="a" style="left:338px;top:583.5999999999999px;width:840px;height:1px;background:#dadce0;"></div><div class="a" style="left:338px;top:615.9px;width:840px;height:1px;background:#dadce0;"></div><div class="a" style="left:338px;top:648.1999999999999px;width:840px;height:1px;background:#dadce0;"></div><div class="a" style="left:338px;top:680.5px;width:840px;height:1px;background:#dadce0;"></div><div class="a" style="left:338px;top:712.8px;width:840px;height:1px;background:#dadce0;"></div><svg width="1280" height="720"><rect x="347" y="528.4" width="14" height="14" rx="2" fill="#1a73e8"/><path d="M350 535.4 L352.8 538.4 L358.2 532.4" fill="none" stroke="#fff" stroke-width="1.8"/><rect x="347" y="560.7" width="14" height="14" rx="2" fill="#1a73e8"/><path d="M350 567.7 L352.8 570.7 L358.2 564.7" fill="none" stroke="#fff" stroke-width="1.8"/><rect x="347" y="593.0" width="14" height="14" rx="2" fill="#1a73e8"/><path d="M350 600.0 L352.8 603.0 L358.2 597.0" fill="none" stroke="#fff" stroke-width="1.8"/><rect x="347" y="625.3" width="14" height="14" rx="2" fill="#1a73e8"/><path d="M350 632.3 L352.8 635.3 L358.2 629.3" fill="none" stroke="#fff" stroke-width="1.8"/><rect x="347" y="657.6" width="14" height="14" rx="2" fill="#1a73e8"/><path d="M350 664.6 L352.8 667.6 L358.2 661.6" fill="none" stroke="#fff" stroke-width="1.8"/><rect x="347.8" y="690.8" width="12.4" height="12.4" rx="1.5" fill="#fff" stroke="#5f6368" stroke-width="1.6"/></svg></div>
<svg width="1280" height="720"><path d="M49.4 55.0 L63.4 52.0 L80.0 50.4 L96.0 50.0 L117.0 48.0 L129.0 45.7 L141.0 44.5 L157.0 38.7 L180.6 31.6 L204.0 23.4 L214.6 18.7 L227.5 14.5 L234.5 16.0 L251.0 17.6 L265.0 18.3 L281.0 15.2 L286.0 11.2 L293.0 8.9 L307.0 9.4 L316.5 10.5 L330.0 10.5 L353.0 11.2 L377.0 11.2 L395.6 10.5 L402.6 11.7 L407.0 14.5 L423.7 17.6 L440.0 21.0 L452.0 21.6 L470.6 22.3 L494.0 20.6 L517.5 18.3 L541.0 16.0 L564.0 17.6 L587.8 19.2 L606.5 20.6 L620.0 20.0 L631.7 25.3 L643.0 28.0 L655.0 31.6 L667.0 35.0 L690.0 34.7 L713.7 34.0 L737.0 34.0 L751.0 32.8 L765.0 28.0 L784.0 27.0 L798.0 24.0 L812.0 24.6 L824.0 28.0 L842.6 30.0 L854.0 28.6 L866.0 28.6 L873.0 26.5 L889.5 26.2 L908.0 25.3 L925.5 27.8 L941.0 25.8 L961.6 23.2 L982.0 20.1 L1013.0 16.8 L1039.0 14.2 L1064.7 10.3 L1077.6 8.2 L1090.5 9.8 L1116.0 9.8 L1152.0 9.0 L1162.6 14.2 L1170.0 18.0 L1193.6 19.3 L1219.4 20.6 L1220.2 21.0 L1222.0 100.0 L1224.0 170.0 L1226.4 243.0 L1227.6 325.0 L1226.0 335.0 L1225.5 337.0 L1218.7 336.3 L1179.0 337.0 L1152.0 339.0 L1123.0 340.6 L1099.0 336.3 L1072.6 333.0 L1046.0 328.3 L1019.5 329.0 L993.0 322.5 L966.4 315.9 L950.5 309.7 L921.0 308.0 L900.0 310.5 L893.6 310.6 L886.5 317.0 L874.8 316.2 L858.4 315.8 L851.4 321.6 L844.0 320.5 L809.0 319.3 L774.0 319.3 L755.0 321.0 L748.0 324.0 L715.5 327.5 L699.0 331.0 L675.6 335.7 L657.0 341.0 L628.7 344.4 L613.0 339.7 L601.0 340.4 L573.0 342.7 L554.0 346.0 L545.0 347.4 L538.0 349.8 L524.0 350.5 L507.5 348.6 L484.0 347.4 L460.6 346.0 L451.0 342.7 L437.0 340.4 L413.7 336.4 L390.0 335.0 L371.6 335.7 L362.0 338.0 L343.4 339.2 L320.0 341.6 L311.0 342.3 L299.5 343.3 L287.8 344.2 L276.0 344.5 L264.0 347.0 L252.6 348.4 L229.0 349.0 L194.0 346.8 L170.6 343.5 L159.0 343.0 L147.0 339.8 L123.7 334.0 L100.0 329.0 L77.0 329.0 L58.0 328.0 L56.2 327.5 L52.0 323.3 L47.9 315.0 L43.8 302.5 L37.5 298.3 L43.8 290.0 L45.8 273.3 L48.8 227.5 L50.8 173.3 L53.3 123.3 L55.0 81.7 L53.3 65.0 Z" fill="none" stroke="#111" stroke-width="1.4" stroke-linejoin="round"/><path d="M49.4 402.6 L63.4 399.5 L80.0 397.8 L96.0 397.4 L117.0 395.3 L129.0 392.9 L141.0 391.7 L157.0 385.6 L180.6 378.3 L204.0 369.7 L214.6 364.8 L227.5 360.5 L234.5 362.0 L251.0 363.7 L265.0 364.4 L281.0 361.2 L286.0 357.0 L293.0 354.7 L307.0 355.2 L316.5 356.3 L330.0 356.3 L353.0 357.0 L377.0 357.0 L395.6 356.3 L402.6 357.6 L407.0 360.5 L423.7 363.7 L440.0 367.2 L452.0 367.9 L470.6 368.6 L494.0 366.8 L517.5 364.4 L541.0 362.0 L564.0 363.7 L587.8 365.4 L606.5 366.8 L620.0 366.2 L631.7 371.7 L643.0 374.5 L655.0 378.3 L667.0 381.8 L690.0 381.5 L713.7 380.8 L737.0 380.8 L751.0 379.5 L765.0 374.5 L784.0 373.5 L798.0 370.4 L812.0 371.0 L824.0 374.5 L842.6 376.6 L854.0 375.1 L866.0 375.1 L873.0 373.0 L889.5 372.6 L908.0 371.7 L925.5 374.3 L941.0 372.2 L961.6 369.5 L982.0 366.3 L1013.0 362.9 L1039.0 360.2 L1064.7 356.1 L1077.6 354.0 L1090.5 355.6 L1116.0 355.6 L1152.0 354.8 L1162.6 360.2 L1170.0 364.1 L1193.6 365.5 L1219.4 366.8 L1220.2 367.2 L1222.0 449.4 L1224.0 522.2 L1226.4 598.1 L1227.6 683.4 L1226.0 693.8 L1225.5 695.9 L1218.7 695.2 L1179.0 695.9 L1152.0 698.0 L1123.0 699.6 L1099.0 695.2 L1072.6 691.7 L1046.0 686.8 L1019.5 687.6 L993.0 680.8 L966.4 673.9 L950.5 667.5 L921.0 665.7 L900.0 668.3 L893.6 668.4 L886.5 675.1 L874.8 674.2 L858.4 673.8 L851.4 679.9 L844.0 678.7 L809.0 677.5 L774.0 677.5 L755.0 679.2 L748.0 682.4 L715.5 686.0 L699.0 689.6 L675.6 694.5 L657.0 700.0 L628.7 703.6 L613.0 698.7 L601.0 699.4 L573.0 701.8 L554.0 705.2 L545.0 706.7 L538.0 709.2 L524.0 709.9 L507.5 707.9 L484.0 706.7 L460.6 705.2 L451.0 701.8 L437.0 699.4 L413.7 695.3 L390.0 693.8 L371.6 694.5 L362.0 696.9 L343.4 698.2 L320.0 700.7 L311.0 701.4 L299.5 702.4 L287.8 703.4 L276.0 703.7 L264.0 706.3 L252.6 707.7 L229.0 708.4 L194.0 706.1 L170.6 702.6 L159.0 702.1 L147.0 698.8 L123.7 692.8 L100.0 687.6 L77.0 687.6 L58.0 686.5 L56.2 686.0 L52.0 681.6 L47.9 673.0 L43.8 660.0 L37.5 655.6 L43.8 647.0 L45.8 629.6 L48.8 582.0 L50.8 525.6 L53.3 473.6 L55.0 430.4 L53.3 413.0 Z" fill="none" stroke="#111" stroke-width="1.4" stroke-linejoin="round"/></svg>
</body></html>
